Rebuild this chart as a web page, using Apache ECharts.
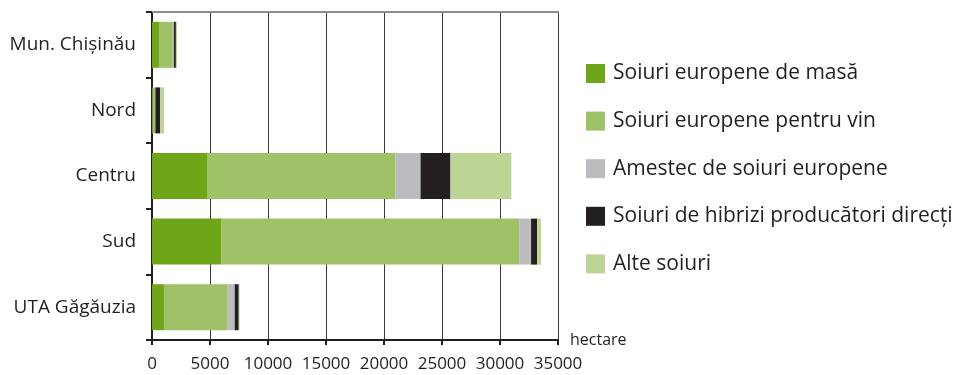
<!DOCTYPE html>
<html>
<head>
<meta charset="utf-8">
<script src="https://cdn.jsdelivr.net/npm/echarts@6/dist/echarts.min.js"></script>
<style>
  html, body { margin: 0; padding: 0; background: #ffffff; }
  #chart { width: 960px; height: 375px; }
</style>
</head>
<body>
<div id="chart"></div>
<script>
// Vineyard area by region and grape variety group, hectares
const regions = ['Mun. Chișinău', 'Nord', 'Centru', 'Sud', 'UTA Găgăuzia'];
const seriesNames = [
  'Soiuri europene de masă',
  'Soiuri europene pentru vin',
  'Amestec de soiuri europene',
  'Soiuri de hibrizi producători direcți',
  'Alte soiuri'
];
const tableGrapes  = [600, 40, 4800, 6000, 1030];
const wineGrapes   = [1200, 230, 16200, 25650, 5500];
const mixedGrapes  = [90, 20, 2150, 1030, 600];
const hybridGrapes = [170, 420, 2580, 520, 350];
const otherGrapes  = [90, 330, 5250, 340, 60];
const xTicks = [0, 5000, 10000, 15000, 20000, 25000, 30000, 35000];

const colors = ['#6fa518', '#9fc167', '#bbbcc0', '#231f20', '#bdd495'];
const values = [tableGrapes, wineGrapes, mixedGrapes, hybridGrapes, otherGrapes];
const FONT = '"Open Sans", "Noto Sans", sans-serif';

const chart = echarts.init(document.getElementById('chart'), null, { renderer: 'canvas' });

chart.setOption({
  animation: false,
  backgroundColor: '#ffffff',
  textStyle: { fontFamily: FONT, color: '#231f20' },
  grid: { left: 152, right: 402, top: 12, bottom: 35, containLabel: false },
  legend: {
    orient: 'vertical',
    left: 581,
    top: 58,
    itemWidth: 19,
    itemHeight: 19,
    itemGap: 26.6,
    icon: 'rect',
    selectedMode: false,
    textStyle: { fontFamily: FONT, fontSize: 21, color: '#231f20', padding: [0, 0, 0, 3] },
    data: seriesNames
  },
  xAxis: {
    type: 'value',
    min: xTicks[0],
    max: xTicks[xTicks.length - 1],
    interval: xTicks[1] - xTicks[0],
    name: 'hectare',
    nameLocation: 'end',
    nameGap: 12,
    nameTextStyle: { fontFamily: FONT, fontSize: 16, color: '#231f20', padding: [0, 0, 6, 0] },
    axisLine: { show: true, lineStyle: { color: '#231f20', width: 2 } },
    axisTick: { show: true, inside: false, length: 5, lineStyle: { color: '#231f20', width: 2 } },
    axisLabel: {
      fontFamily: FONT, fontSize: 17, color: '#231f20', margin: 16,
      formatter: v => String(v)
    },
    splitLine: { show: true, lineStyle: { color: '#3a3a3a', width: 1 } }
  },
  yAxis: {
    type: 'category',
    data: regions,
    inverse: true,
    axisLine: { show: true, lineStyle: { color: '#231f20', width: 2 } },
    axisTick: { show: true, length: 6, lineStyle: { color: '#231f20', width: 2 } },
    axisLabel: { fontFamily: FONT, fontSize: 19, color: '#231f20', margin: 16 },
    splitLine: { show: false }
  },
  graphic: [{
    type: 'line',
    shape: { x1: 152, y1: 12, x2: 559, y2: 12 },
    style: { stroke: '#8c8c8c', lineWidth: 2 },
    z: 10
  }],
  series: seriesNames.map((name, i) => ({
    name: name,
    type: 'bar',
    stack: 'total',
    barWidth: 46,
    itemStyle: { color: colors[i] },
    emphasis: { disabled: true },
    data: values[i]
  }))
});
</script>
</body>
</html>
